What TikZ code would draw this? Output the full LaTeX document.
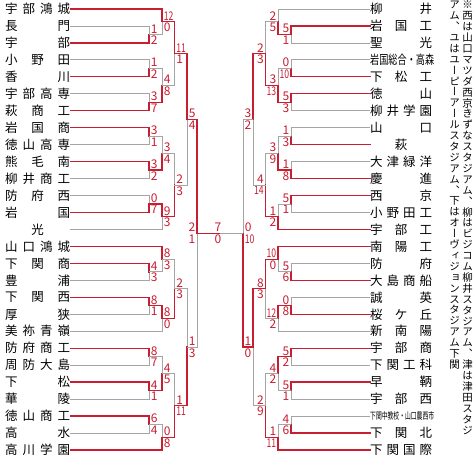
\documentclass[tikz,border=0pt]{standalone}
\usepackage{fontspec}
\usepackage{graphicx}
\setmainfont{Noto Sans CJK JP}
\newfontfamily\notefont[RawFeature=+vert]{Noto Sans CJK JP}
\definecolor{tred}{RGB}{200,30,50}
\definecolor{tgray}{RGB}{165,165,165}
\tikzset{win/.style={draw=tred, line width=1.3pt, line cap=rect},
         lose/.style={draw=tgray, line width=0.8pt, line cap=rect},
         team/.style={inner sep=0pt, font={\fontsize{12.5}{13}\selectfont}},
         score/.style={inner sep=0pt, text=tred, font={\fontsize{12}{12}\selectfont}},
         topL/.style={score, anchor=south west, xshift=1.6pt, yshift=1.2pt},
         botL/.style={score, anchor=north west, xshift=1.6pt, yshift=-1.2pt},
         topR/.style={score, anchor=south east, xshift=-1.6pt, yshift=1.2pt},
         botR/.style={score, anchor=north east, xshift=-1.6pt, yshift=-1.2pt},
         note/.style={inner sep=0pt, align=center,
           font={\notefont\fontsize{10.5}{10.9}\selectfont}}}
\newcounter{gm}
\newcommand{\two}[1]{\scalebox{0.72}[1]{#1}}
\newcommand{\squeeze}[1]{\resizebox{64pt}{\height}{#1}}
\ExplSyntaxOn
\NewDocumentCommand \vtext { m }
  {
    \bool_set_true:N \l_tmpa_bool
    \tl_map_inline:nn {#1}
      { \bool_if:NF \l_tmpa_bool { \\ } \bool_set_false:N \l_tmpa_bool ##1 }
  }
\ExplSyntaxOff
% #1 side of the scores, #2 x, #3 x of the inputs, #4 #5 y top/bottom, #6 #7 scores, #8 winner
\newcommand{\game}[8]{%
  \stepcounter{gm}%
  \pgfmathsetmacro\ym{(#4+#5)/2}%
  \ifnum#8=1
    \draw[lose] (#3,#5) -- (#2,#5) -- (#2,\ym);
    \draw[win] (#3,#4) -- (#2,#4) -- (#2,\ym);
  \else
    \draw[lose] (#3,#4) -- (#2,#4) -- (#2,\ym);
    \draw[win] (#3,#5) -- (#2,#5) -- (#2,\ym);
  \fi
  \node[top#1] (g\thegm t) at (#2,\ym) {#6};
  \node[bot#1] (g\thegm b) at (#2,\ym) {#7};
}

\begin{document}
\begin{tikzpicture}[x=1pt,y=-1pt]
  \fill[white] (0,0) rectangle (474,460);

  \foreach \nm/\st/\ex [count=\i from 0] in {宇 部 鴻 城/win/162, 長 門/lose/149,
      宇 部/win/149, 小 野 田/lose/149, 香 川/win/149, 宇 部 高 専/lose/149,
      萩 商 工/win/149, 岩 国 商/win/149, 徳 山 高 専/lose/149, 熊 毛 南/win/149,
      柳 井 商 工/lose/149, 防 府 西/lose/149, 岩 国/win/149, \hfil 光\hfil/lose/162,
      山 口 鴻 城/win/162, 下 関 商/win/149, 豊 浦/lose/149, 下 関 西/win/149,
      厚 狭/lose/149, 美 祢 青 嶺/lose/162, 防 府 商 工/win/149, 周 防 大 島/lose/149,
      下 松/win/149, 華 陵/lose/149, 徳 山 商 工/win/149, 高 水/lose/149,
      高 川 学 園/win/162}{
    \node[team, anchor=west] (L\i) at (5,9+16.96*\i) {\makebox[65pt][s]{\nm}};
    \draw[\st] (L\i.east) -- (\ex,9+16.96*\i);
  }
  \foreach \nm/\st/\ex [count=\i from 0] in {柳 井/lose/278, 岩 国 工/win/291,
      聖 光/lose/291, \squeeze{岩国総合・高森}/lose/291, 下 松 工/win/291,
      徳 山/win/291, 柳 井 学 園/lose/291, 山 口/lose/291, \hfil 萩\hfil/win/291,
      大 津 緑 洋/lose/291, 慶 進/win/291, 西 京/win/291, 小 野 田 工/lose/291,
      宇 部 工/win/278, 南 陽 工/win/278, 防 府/lose/291, 大 島 商 船/win/291,
      誠 英/lose/291, 桜 ケ 丘/win/291, 新 南 陽/lose/278, 宇 部 商/win/291,
      下 関 工 科/lose/291, 早 鞆/win/291, 宇 部 西/lose/291,
      \squeeze{\fontsize{9.5}{10}\selectfont 下関中教校・山口農西市}/lose/291,
      下 関 北/win/291, 下 関 国 際/win/278}{
    \node[team, anchor=west] (R\i) at (370,9+16.96*\i) {\makebox[62pt][s]{\nm}};
    \draw[\st] (R\i.west) -- (\ex,9+16.96*\i);
  }

  % left
  \game{L}{149}{145}{25.96}{42.92}{1}{2}{2}
  \game{L}{149}{145}{59.88}{76.84}{1}{2}{2}
  \game{L}{149}{145}{93.80}{110.76}{3}{7}{2}
  \game{L}{149}{145}{127.72}{144.68}{3}{1}{1}
  \game{L}{149}{145}{161.64}{178.60}{3}{2}{1}
  \game{L}{149}{145}{195.56}{212.52}{0}{7}{2}
  \game{L}{149}{145}{263.40}{280.36}{4}{3}{1}
  \game{L}{149}{145}{297.32}{314.28}{8}{1}{1}
  \game{L}{149}{145}{348.20}{365.16}{8}{7}{1}
  \game{L}{149}{145}{382.12}{399.08}{4}{1}{1}
  \game{L}{149}{145}{416.04}{433.00}{6}{4}{1}
  \game{L}{162}{149}{9.00}{34.44}{\two{12}}{0}{1}
  \game{L}{162}{149}{68.36}{102.28}{4}{8}{2}
  \game{L}{162}{149}{136.20}{170.12}{3}{4}{2}
  \game{L}{162}{149}{204.04}{229.48}{9}{3}{1}
  \game{L}{162}{149}{246.44}{271.88}{8}{3}{1}
  \game{L}{162}{149}{305.80}{331.24}{8}{0}{1}
  \game{L}{162}{149}{356.68}{390.60}{4}{5}{2}
  \game{L}{162}{149}{424.52}{449.96}{0}{8}{2}
  \game{L}{174.5}{162}{21.72}{85.32}{\two{11}}{1}{1}
  \game{L}{174.5}{162}{153.16}{216.76}{2}{3}{2}
  \game{L}{174.5}{162}{259.16}{318.52}{2}{3}{2}
  \game{L}{174.5}{162}{373.64}{437.24}{1}{\two{11}}{2}
  \game{L}{187}{174.5}{53.52}{184.96}{5}{4}{1}
  \game{L}{187}{174.5}{288.84}{405.44}{1}{3}{2}
  \game{R}{197}{187}{119.24}{347.14}{2}{1}{1}

  % right
  \game{R}{291}{295}{25.96}{42.92}{5}{1}{1}
  \game{R}{291}{295}{59.88}{76.84}{0}{\two{10}}{2}
  \game{R}{291}{295}{93.80}{110.76}{5}{3}{1}
  \game{R}{291}{295}{127.72}{144.68}{1}{3}{2}
  \game{R}{291}{295}{161.64}{178.60}{1}{8}{2}
  \game{R}{291}{295}{195.56}{212.52}{5}{1}{1}
  \game{R}{291}{295}{263.40}{280.36}{5}{6}{2}
  \game{R}{291}{295}{297.32}{314.28}{0}{8}{2}
  \game{R}{291}{295}{348.20}{365.16}{5}{2}{1}
  \game{R}{291}{295}{382.12}{399.08}{5}{1}{1}
  \game{R}{291}{295}{416.04}{433.00}{4}{6}{2}
  \game{R}{278}{291}{9.00}{34.44}{2}{5}{2}
  \game{R}{278}{291}{68.36}{102.28}{3}{\two{13}}{2}
  \game{R}{278}{291}{136.20}{170.12}{3}{9}{2}
  \game{R}{278}{291}{204.04}{229.48}{1}{2}{2}
  \game{R}{278}{291}{246.44}{271.88}{\two{10}}{0}{1}
  \game{R}{278}{291}{305.80}{331.24}{\two{12}}{2}{1}
  \game{R}{278}{291}{356.68}{390.60}{4}{2}{1}
  \game{R}{278}{291}{424.52}{449.96}{1}{\two{11}}{2}
  \game{R}{265.5}{278}{21.72}{85.32}{2}{3}{2}
  \game{R}{265.5}{278}{153.16}{216.76}{4}{\two{14}}{2}
  \game{R}{265.5}{278}{259.16}{318.52}{8}{3}{1}
  \game{R}{265.5}{278}{373.64}{437.24}{2}{9}{2}
  \game{R}{253}{265.5}{53.52}{184.96}{3}{2}{1}
  \game{R}{253}{265.5}{288.84}{405.44}{1}{0}{1}
  \game{L}{243}{253}{119.24}{347.14}{0}{\two{10}}{2}

  % final
  \draw[lose] (243,233.19) -- (219,233.19);
  \draw[win] (197,233.19) -- (219,233.19);
  \node[score, anchor=south] (f1) at (218,231.9) {7};
  \node[score, anchor=north] (f2) at (218,234.5) {0};

  \node[note, anchor=north] (n1) at (467.5,1)
    {\vtext{※西は山口マツダ西京きずなスタジアム、柳はビジコム柳井スタジアム、津は津田スタジ}};
  \node[note, anchor=north] (n2) at (454.5,1)
    {\vtext{アム、ユはユーピーアールスタジアム、下はオーヴィジョンスタジアム下関}};
\end{tikzpicture}
\end{document}
